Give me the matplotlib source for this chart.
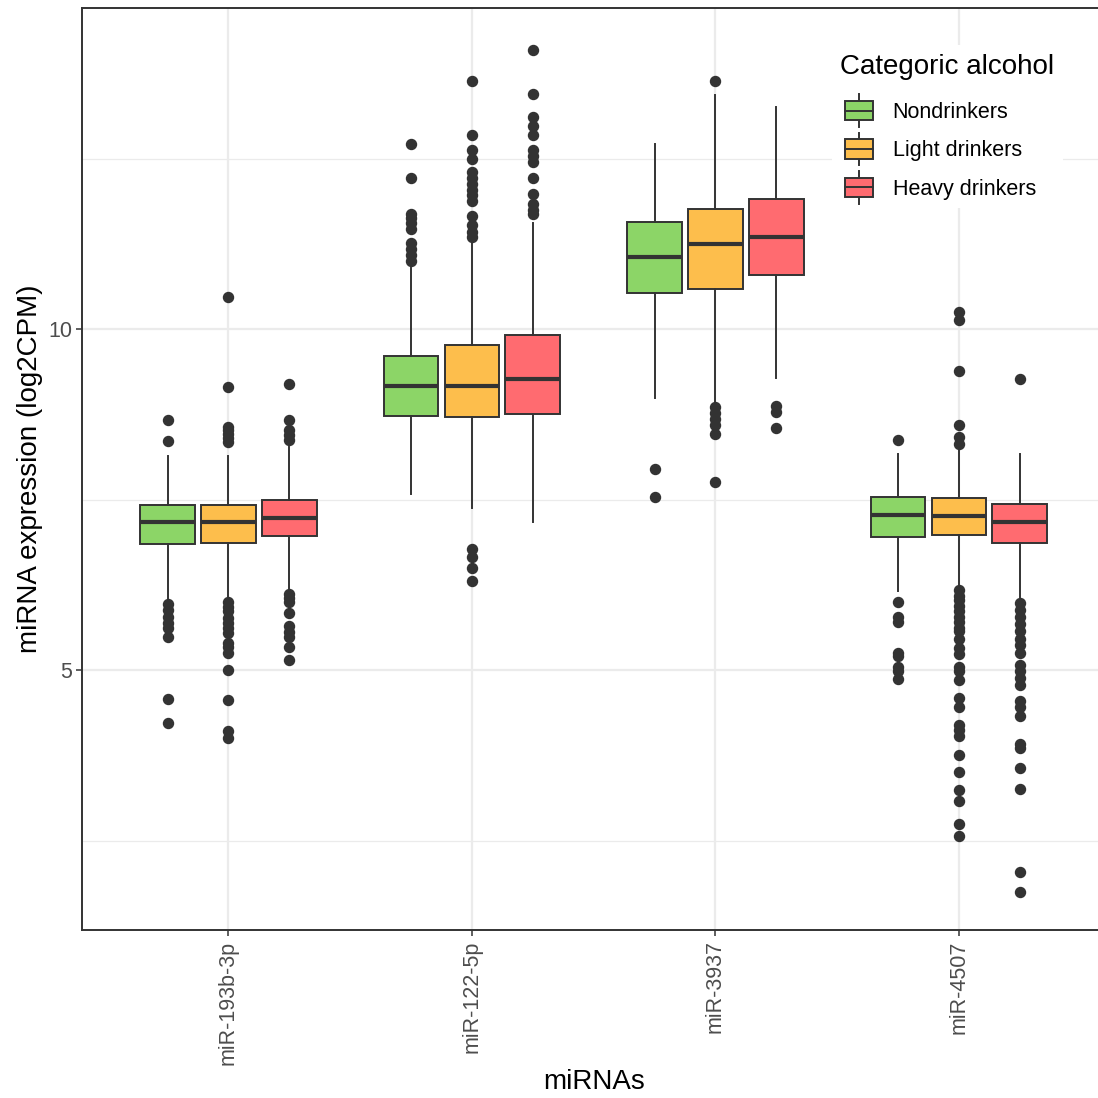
import matplotlib
matplotlib.use('Agg')
import matplotlib.pyplot as plt
from matplotlib.legend_handler import HandlerBase
from matplotlib.patches import Patch, Rectangle
from matplotlib.lines import Line2D

plt.rcParams['font.family'] = ['Liberation Sans', 'DejaVu Sans']

mirnas = ['miR-193b-3p', 'miR-122-5p', 'miR-3937', 'miR-4507']
groups = ['Nondrinkers', 'Light drinkers', 'Heavy drinkers']
colors = ['#8cd567', '#fdbe4c', '#ff6b70']
edge = '#333333'

# box stats per group, one value per miRNA
non_med = [7.17, 9.16, 11.06, 7.27]
non_q1 = [6.85, 8.73, 10.53, 6.95]
non_q3 = [7.42, 9.61, 11.57, 7.53]
non_lo = [6.03, 7.58, 8.99, 6.16]
non_hi = [8.14, 10.90, 12.71, 8.17]
non_out = [
    [8.67, 8.36, 5.97, 5.88, 5.78, 5.69, 5.61, 5.49, 4.58, 4.22],
    [12.72, 12.22, 11.69, 11.63, 11.55, 11.47, 11.26, 11.17, 11.08, 11.00],
    [7.95, 7.54],
    [8.38, 6.00, 5.78, 5.70, 5.25, 5.20, 5.04, 4.99, 4.87],
]

light_med = [7.17, 9.17, 11.25, 7.26]
light_q1 = [6.86, 8.71, 10.59, 6.98]
light_q3 = [7.42, 9.76, 11.76, 7.52]
light_lo = [6.06, 7.38, 8.91, 6.20]
light_hi = [8.14, 11.28, 13.43, 8.25]
light_out = [
    [10.47, 9.15, 8.57, 8.52, 8.46, 8.40, 8.35, 6.00, 5.93, 5.86, 5.76, 5.69,
     5.61, 5.54, 5.39, 5.34, 5.25, 5.00, 4.56, 4.10, 4.00],
    [13.64, 12.85, 12.62, 12.50, 12.30, 12.22, 12.13, 12.04, 11.96, 11.87,
     11.66, 11.52, 11.43, 11.35, 6.77, 6.65, 6.49, 6.31],
    [13.64, 8.85, 8.77, 8.68, 8.59, 8.46, 7.75],
    [10.25, 10.13, 9.38, 8.59, 8.41, 8.32, 6.17, 6.09, 6.02, 5.94, 5.86, 5.78,
     5.70, 5.62, 5.57, 5.46, 5.33, 5.23, 5.04, 4.99, 4.86, 4.59, 4.46, 4.20,
     4.12, 4.04, 3.75, 3.50, 3.24, 3.08, 2.74, 2.57],
]

heavy_med = [7.23, 9.27, 11.35, 7.17]
heavy_q1 = [6.96, 8.75, 10.79, 6.86]
heavy_q3 = [7.50, 9.91, 11.90, 7.44]
heavy_lo = [6.17, 7.17, 9.28, 6.04]
heavy_hi = [8.27, 11.56, 13.26, 8.17]
heavy_out = [
    [9.19, 8.66, 8.52, 8.45, 8.37, 6.12, 6.05, 6.00, 5.83, 5.64, 5.56, 5.49,
     5.34, 5.15],
    [14.09, 13.44, 13.11, 12.97, 12.84, 12.62, 12.53, 12.45, 12.22, 11.98,
     11.84, 11.75, 11.69],
    [8.87, 8.78, 8.55],
    [9.27, 5.99, 5.88, 5.78, 5.67, 5.57, 5.46, 5.36, 5.25, 5.07, 4.99, 4.88,
     4.78, 4.54, 4.46, 4.33, 3.91, 3.86, 3.56, 3.25, 2.04, 1.75],
]

all_stats = [
    (non_med, non_q1, non_q3, non_lo, non_hi, non_out),
    (light_med, light_q1, light_q3, light_lo, light_hi, light_out),
    (heavy_med, heavy_q1, heavy_q3, heavy_lo, heavy_hi, heavy_out),
]


class BoxKey(HandlerBase):
    # small boxplot glyph, indented a little like the ggplot key
    def create_artists(self, legend, orig_handle, xdescent, ydescent,
                       width, height, fontsize, trans):
        indent = 3.5
        x0, y0 = -xdescent + indent, -ydescent
        w = width - indent
        cx = x0 + w / 2
        ext = height * 0.35
        whisk = Line2D([cx, cx], [y0 - ext, y0 + height + ext], color=edge,
                       lw=1.4, transform=trans)
        box = Rectangle((x0, y0), w, height,
                        facecolor=orig_handle.get_facecolor(),
                        edgecolor=edge, lw=1.4, transform=trans)
        med = Line2D([x0, x0 + w], [y0 + height / 2] * 2, color=edge,
                     lw=1.4, transform=trans)
        return [whisk, box, med]


fig = plt.figure(figsize=(10.98, 10.98), dpi=100)
ax = fig.add_axes([0.075, 0.153, 0.9314, 0.8397])

offsets = [-0.25, 0.0, 0.25]
for g, (med, q1, q3, lo, hi, out) in enumerate(all_stats):
    stats = []
    for i in range(len(mirnas)):
        stats.append({'med': med[i], 'q1': q1[i], 'q3': q3[i],
                      'whislo': lo[i], 'whishi': hi[i], 'fliers': out[i]})
    pos = [i + 1 + offsets[g] for i in range(len(mirnas))]
    ax.bxp(stats, positions=pos, widths=0.225, patch_artist=True,
           showcaps=False, manage_ticks=False,
           boxprops=dict(facecolor=colors[g], edgecolor=edge, linewidth=1.4),
           medianprops=dict(color=edge, linewidth=3.0, solid_capstyle='butt'),
           whiskerprops=dict(color=edge, linewidth=1.4),
           flierprops=dict(marker='o', markerfacecolor=edge,
                           markeredgecolor=edge, markersize=7.2))

ax.set_xlim(0.4, 4.6)
ax.set_ylim(1.188, 14.707)
ax.set_xticks(range(1, len(mirnas) + 1))
ax.set_xticklabels(mirnas, rotation=90)
ax.set_yticks([5, 10])
ax.set_yticks([2.5, 7.5, 12.5], minor=True)
ax.tick_params(axis='both', which='major', labelsize=15.5, labelcolor='#4d4d4d',
               color=edge, length=4, width=1.1)
ax.tick_params(axis='y', which='minor', length=0)
ax.grid(which='major', color='#ebebeb', linewidth=1.6)
ax.grid(which='minor', axis='y', color='#ebebeb', linewidth=0.9)
ax.set_axisbelow(True)
for s in ax.spines.values():
    s.set_color(edge)
    s.set_linewidth(1.4)

ax.set_xlabel('miRNAs', fontsize=20, labelpad=3.5)
ax.set_ylabel('miRNA expression (log2CPM)', fontsize=20, labelpad=3.7)

handles = [Patch(facecolor=c) for c in colors]
leg = ax.legend(handles, groups, handler_map={Patch: BoxKey()},
                title='Categoric alcohol', title_fontsize=20, fontsize=15.5,
                loc='upper left', bbox_to_anchor=(0.7221, 0.9714),
                frameon=True, fancybox=False, framealpha=1,
                facecolor='white', edgecolor='none',
                handlelength=1.53, handleheight=1.0, labelspacing=0.76,
                handletextpad=0.9, borderpad=0.4, alignment='left')
# a bit more room between the title and the keys
leg._legend_box.sep = 0.76 * 15.5 + 3.6

fig.savefig('out.png', dpi=100)
